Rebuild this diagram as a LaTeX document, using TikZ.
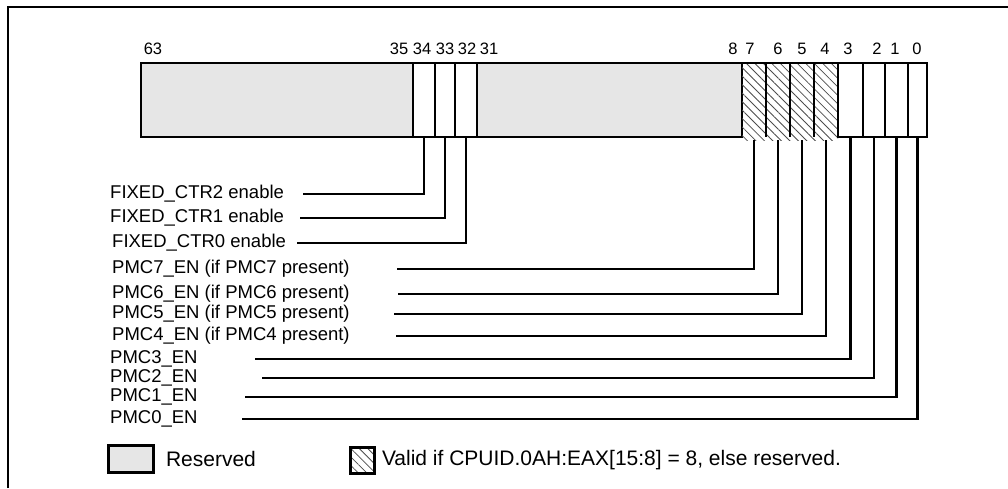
\documentclass[tikz,border=0pt]{standalone}
\usepackage{fontspec}
\setmainfont{Liberation Sans}
\usepackage{tikz}
\usetikzlibrary{positioning,patterns.meta}
\definecolor{rsvdgray}{RGB}{230,230,230}

\begin{document}
\begin{tikzpicture}[x=1pt, y=-1pt,
		cell/.style={draw, line width=2.8pt, inner sep=0pt, outer sep=0pt,
					minimum height=74pt, anchor=north west},
		rsvd/.style={cell, fill=rsvdgray},
		hatchcell/.style={inner sep=0pt, outer sep=0pt, minimum width=24pt,
					minimum height=77pt, anchor=north west,
					pattern={Lines[angle=-45, distance=6pt, line width=0.8pt]},
					pattern color=black!70},
		bitno/.style={font=\fontsize{16.5}{17}\selectfont, anchor=base, inner sep=0pt},
		lbl/.style={font=\fontsize{18.5}{19}\selectfont, anchor=west, inner sep=0pt},
		keytext/.style={font=\fontsize{21}{22}\selectfont, anchor=west, inner sep=0pt},
		lead/.style={line width=2.5pt}
	]
		\useasboundingbox (0,0) rectangle (1008,488);
		\draw[line width=2.8pt] (8,488) -- (8,7) -- (1008,7);

		\node[rsvd, minimum width=272pt] (r63) at (141,63) {};
		\node[cell, minimum width=22pt] (b34) at (413,63) {};
		\node[cell, minimum width=20pt] (b33) at (435,63) {};
		\node[cell, minimum width=22pt] (b32) at (455,63) {};
		\node[rsvd, minimum width=265pt] (r31) at (477,63) {};
		\foreach \b/\x in {7/742, 6/766, 5/790, 4/814}
			\node[hatchcell] (b\b) at (\x,63) {};
		\node[cell, minimum width=25pt] (b3) at (838,63) {};
		\node[cell, minimum width=22pt] (b2) at (863,63) {};
		\node[cell, minimum width=23pt] (b1) at (885,63) {};
		\node[cell, minimum width=19pt] (b0) at (908,63) {};
		\draw[line width=2.8pt] (b7.north west) -- (b4.north east);
		\foreach \b in {7,6,5,4}
			\draw[line width=2.8pt] (b\b.north east) -- ++(0,74);

		\foreach \n/\x in {63/153, 35/399, 34/422, 33/445, 32/467, 31/489,
				8/733, 7/750, 6/778, 5/802, 4/825, 3/848, 2/877, 1/895, 0/917}
			\node[bitno] (n\n) at (\x,54) {\n};

		\node[lbl] (lc2) at (110,194) {FIXED\_CTR2 enable};
		\node[lbl] (lc1) at (110,218) {FIXED\_CTR1 enable};
		\node[lbl] (lc0) at (112,243) {FIXED\_CTR0 enable};
		\node[lbl] (lp7) at (112,269) {PMC7\_EN (if PMC7 present)};
		\node[lbl] (lp6) at (112,294) {PMC6\_EN (if PMC6 present)};
		\node[lbl] (lp5) at (112,314) {PMC5\_EN (if PMC5 present)};
		\node[lbl] (lp4) at (112,336) {PMC4\_EN (if PMC4 present)};
		\node[lbl] (lp3) at (110,359) {PMC3\_EN};
		\node[lbl] (lp2) at (110,378) {PMC2\_EN};
		\node[lbl] (lp1) at (110,397) {PMC1\_EN};
		\node[lbl] (lp0) at (110,419) {PMC0\_EN};

		\coordinate (sc2) at (303,194);
		\coordinate (sc1) at (300,218);
		\coordinate (sc0) at (297,243);
		\coordinate (sp7) at (397,269);
		\coordinate (sp6) at (398,294);
		\coordinate (sp5) at (394,314);
		\coordinate (sp4) at (396,336);
		\coordinate (sp3) at (255,359);
		\coordinate (sp2) at (262,378);
		\coordinate (sp1) at (245,397);
		\coordinate (sp0) at (242,419);

		\draw[lead] (sc2) -| (b34.south);
		\draw[lead] (sc1) -| (b33.south);
		\draw[lead] (sc0) -| (b32.south);
		\foreach \b in {7,6,5,4,3,2,1,0}
			\draw[lead] (sp\b) -| (b\b.south);

		\node[draw, line width=2.8pt, fill=rsvdgray, minimum width=45pt,
			minimum height=27pt, inner sep=0pt, anchor=north west] (keyrsvd) at (107,444) {};
		\node[keytext, right=11pt of keyrsvd] (keyrsvdtxt) {Reserved};
		\node[draw, line width=2.8pt, inner sep=0pt, minimum width=24pt,
			minimum height=26pt, anchor=north west,
			pattern={Lines[angle=-45, distance=6pt, line width=0.8pt]},
			pattern color=black!70] (keyvalid) at (349,446) {};
		\node[keytext, right=6pt of keyvalid] (keyvalidtxt)
			{Valid if CPUID.0AH:EAX[15:8] = 8, else reserved.};
	\end{tikzpicture}
\end{document}
